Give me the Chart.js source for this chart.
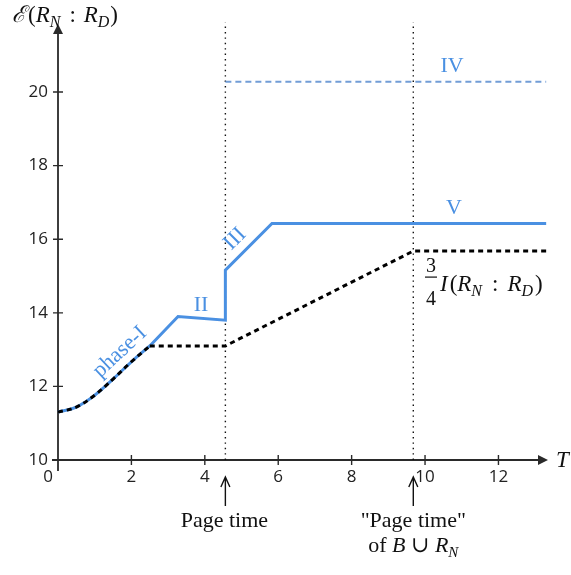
<!DOCTYPE html>
<html>
<head>
<meta charset="utf-8">
<script src="https://cdn.jsdelivr.net/npm/chart.js@4.4.1/dist/chart.umd.min.js"></script>
<style>
    html, body { margin: 0; padding: 0; background: #fff; }
    #wrap { width: 571px; height: 575px; }
</style>
</head>
<body>
<div id="wrap"><canvas id="entChart"></canvas></div>
<script>
"use strict";

// tick labels
const xTicks = [0, 2, 4, 6, 8, 10, 12];
const yTicks = [10, 12, 14, 16, 18, 20];

// phase-I curve (shared by both series)
const phaseT = [0, 0.5, 1, 1.5, 2, 2.5];
const phaseE = [11.3, 11.44, 11.76, 12.2, 12.67, 13.1];

// blue entropy curve after phase-I (II, III, V)
const blueT = [2.5, 3.27, 4.56, 4.56, 5.83, 13.3];
const blueE = [13.1, 13.9, 13.8, 15.16, 16.43, 16.43];

// 3/4 I(R_N:R_D) bound after phase-I
const boundT = [2.5, 4.56, 9.68, 13.3];
const boundE = [13.1, 13.1, 15.68, 15.68];

// phase IV
const ivT = [4.56, 13.3];
const ivE = [20.28, 20.28];

// page times
const pageTimes = [4.56, 9.68];

const xMax = 13.35;
const yMin = 10;
const yMax = 21.85;

const blue = "#4a90e2";
const axisCol = "#2a2a2a";
const serif = '"Liberation Serif", "DejaVu Serif", serif';
const sans = '"Open Sans", "Noto Sans", sans-serif';

function pts(xs, ys) {
    return xs.map((x, i) => ({ x: x, y: ys[i] }));
}

// draws a run of text pieces [text, font, dy] from one baseline, numbers are gaps
function rich(ctx, parts, x, y, align) {
    let w = 0;
    parts.forEach((p) => {
        if (typeof p === "number") { w += p; return; }
        ctx.font = p[1];
        w += ctx.measureText(p[0]).width;
    });
    let cx = align === "center" ? x - w / 2 : x;
    ctx.textAlign = "left";
    ctx.textBaseline = "alphabetic";
    parts.forEach((p) => {
        if (typeof p === "number") { cx += p; return; }
        ctx.font = p[1];
        ctx.fillText(p[0], cx, y + (p[2] || 0));
        cx += ctx.measureText(p[0]).width;
    });
}

function rotText(ctx, txt, x, y, ang, font, color) {
    ctx.save();
    ctx.translate(x, y);
    ctx.rotate(ang * Math.PI / 180);
    ctx.font = font;
    ctx.fillStyle = color;
    ctx.textAlign = "center";
    ctx.textBaseline = "middle";
    ctx.fillText(txt, 0, 0);
    ctx.restore();
}

const axesPlugin = {
    id: "axesPlugin",
    beforeDatasetsDraw(chart) {
        const ctx = chart.ctx;
        const xs = chart.scales.x;
        const ys = chart.scales.y;
        const x0 = xs.getPixelForValue(0);
        const y0 = ys.getPixelForValue(yMin);
        const xEnd = xs.getPixelForValue(xMax);
        const yEnd = ys.getPixelForValue(yMax);

        ctx.save();
        ctx.strokeStyle = axisCol;
        ctx.fillStyle = axisCol;
        ctx.lineWidth = 1.8;
        ctx.beginPath();
        ctx.moveTo(x0, y0 + 11);
        ctx.lineTo(x0, yEnd + 6);
        ctx.moveTo(x0 - 6, y0);
        ctx.lineTo(xEnd - 6, y0);
        ctx.stroke();

        // arrow heads
        ctx.beginPath();
        ctx.moveTo(x0, yEnd);
        ctx.lineTo(x0 - 5, yEnd + 10);
        ctx.lineTo(x0 + 5, yEnd + 10);
        ctx.closePath();
        ctx.fill();
        ctx.beginPath();
        ctx.moveTo(xEnd, y0);
        ctx.lineTo(xEnd - 10, y0 - 5);
        ctx.lineTo(xEnd - 10, y0 + 5);
        ctx.closePath();
        ctx.fill();

        // tick marks crossing the axes
        ctx.lineWidth = 1.4;
        ctx.beginPath();
        yTicks.forEach((v) => {
            const py = ys.getPixelForValue(v);
            ctx.moveTo(x0 - 5, py);
            ctx.lineTo(x0 + 5, py);
        });
        xTicks.forEach((v) => {
            if (v === 0) return;
            const px = xs.getPixelForValue(v);
            ctx.moveTo(px, y0 - 5);
            ctx.lineTo(px, y0 + 5);
        });
        ctx.stroke();

        // tick labels
        ctx.font = "17px " + sans;
        ctx.fillStyle = "#222";
        ctx.textBaseline = "middle";
        ctx.textAlign = "right";
        yTicks.forEach((v) => {
            ctx.fillText(String(v), x0 - 10, ys.getPixelForValue(v));
        });
        ctx.textAlign = "center";
        xTicks.forEach((v) => {
            const px = xs.getPixelForValue(v) - (v === 0 ? 10 : 0);
            ctx.fillText(String(v), px, y0 + 17);
        });
        ctx.restore();
    },
    afterDraw(chart) {
        const ctx = chart.ctx;
        const xs = chart.scales.x;
        const ys = chart.scales.y;
        const y0 = ys.getPixelForValue(yMin);
        const it23 = "italic 23px " + serif;
        const up23 = "23px " + serif;
        const it16 = "italic 16px " + serif;

        ctx.save();
        ctx.fillStyle = "#111";
        // axis titles
        rich(ctx, [["\u2130", it23], 2, ["(", up23], ["R", it23], ["N", it16, 5], 9,
            [":", up23], 8, ["R", it23], ["D", it16, 5], 1, [")", up23]], 12, 22, "left");
        rich(ctx, [["T", "italic 23px " + serif]], 556, y0 + 7, "left");

        // 3/4 I(R_N : R_D)
        const fx = 431;
        ctx.font = "20px " + serif;
        ctx.textAlign = "center";
        ctx.fillText("3", fx, 272);
        ctx.fillText("4", fx, 305);
        ctx.fillRect(fx - 6, 276.5, 12, 1.2);
        rich(ctx, [["I", it23], 2, ["(", up23], ["R", it23], ["N", it16, 5], 10,
            [":", up23], 9, ["R", it23], ["D", it16, 5], 2, [")", up23]], 440, 291, "left");

        // page time arrows and notes
        ctx.strokeStyle = "#111";
        ctx.lineWidth = 1.4;
        pageTimes.forEach((t) => {
            const px = xs.getPixelForValue(t);
            ctx.beginPath();
            ctx.moveTo(px, y0 + 46);
            ctx.lineTo(px, y0 + 17);
            ctx.moveTo(px - 4.5, y0 + 27);
            ctx.lineTo(px, y0 + 17);
            ctx.lineTo(px + 4.5, y0 + 27);
            ctx.stroke();
        });
        const p1 = xs.getPixelForValue(pageTimes[0]);
        const p2 = xs.getPixelForValue(pageTimes[1]);
        rich(ctx, [["Page time", "22px " + serif]], p1 - 1, y0 + 67, "center");
        rich(ctx, [["\"Page time\"", "22px " + serif]], p2, y0 + 67, "center");
        rich(ctx, [["of ", "22px " + serif], ["B", "italic 22px " + serif],
            [" \u222A ", "22px " + serif], ["R", "italic 22px " + serif],
            ["N", "italic 15px " + serif, 5]], p2, y0 + 92, "center");

        // phase labels
        const lab = "22px " + serif;
        rotText(ctx, "phase-I", 120, 352, -43, lab, blue);
        rotText(ctx, "II", 201, 305, 0, lab, blue);
        rotText(ctx, "III", 235, 239, -45, lab, blue);
        rotText(ctx, "IV", 452, 66, 0, lab, blue);
        rotText(ctx, "V", 454, 208, 0, lab, blue);
        ctx.restore();
    },
};

const ctx = document.getElementById("entChart").getContext("2d");
const pageLines = pageTimes.map((t) => ({
    data: pts([t, t], [yMin, yMax + 0.05]),
    borderColor: "#111",
    borderWidth: 1.4,
    borderDash: [1.4, 4],
    order: 5,
}));

window.entChart = new Chart(ctx, {
    type: "scatter",
    data: {
        datasets: [
            {
                label: "bound phase-I",
                data: pts(phaseT, phaseE),
                borderColor: "#000",
                borderWidth: 3,
                borderDash: [5, 4],
                tension: 0.4,
                order: 0,
            },
            {
                label: "bound",
                data: pts(boundT, boundE),
                borderColor: "#000",
                borderWidth: 3,
                borderDash: [5, 4],
                order: 0,
            },
            {
                label: "entropy phase-I",
                data: pts(phaseT, phaseE),
                borderColor: blue,
                borderWidth: 3,
                tension: 0.4,
                order: 2,
            },
            {
                label: "entropy",
                data: pts(blueT, blueE),
                borderColor: blue,
                borderWidth: 3,
                borderJoinStyle: "miter",
                order: 2,
            },
            {
                label: "IV",
                data: pts(ivT, ivE),
                borderColor: "#729dd6",
                borderWidth: 2,
                borderDash: [6, 4],
                order: 3,
            },
        ].concat(pageLines),
    },
    options: {
        responsive: true,
        maintainAspectRatio: false,
        animation: false,
        showLine: true,
        clip: false,
        elements: { point: { radius: 0, hoverRadius: 0 }, line: { fill: false } },
        layout: { padding: { top: 24, right: 23, left: 0, bottom: 0 } },
        plugins: { legend: { display: false }, tooltip: { enabled: false } },
        events: [],
        scales: {
            x: {
                type: "linear",
                min: 0,
                max: xMax,
                grid: { display: false },
                border: { display: false },
                ticks: { display: false },
                afterFit: (s) => { s.height = 115; },
            },
            y: {
                type: "linear",
                min: yMin,
                max: yMax,
                grid: { display: false },
                border: { display: false },
                ticks: { display: false },
                afterFit: (s) => { s.width = 58; },
            },
        },
    },
    plugins: [axesPlugin],
});
</script>
</body>
</html>
